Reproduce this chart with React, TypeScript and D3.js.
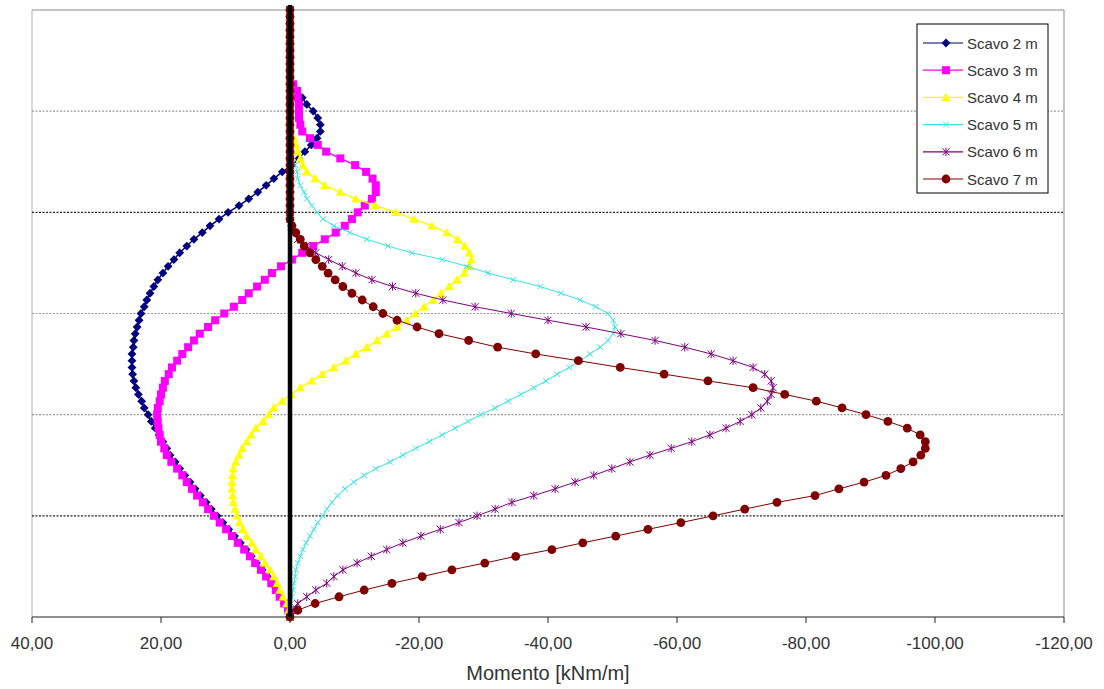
import React from 'react';
import * as d3 from 'd3';

// Depth along the wall (m), one value per computed node
const depth = [
  0, 0.2, 0.4, 0.6, 0.8, 1.0, 1.2, 1.4, 1.6, 1.8,
  2.0, 2.2, 2.4, 2.6, 2.8, 3.0, 3.2, 3.4, 3.6, 3.8,
  4.0, 4.2, 4.4, 4.6, 4.8, 5.0, 5.2, 5.4, 5.6, 5.8,
  6.0, 6.2, 6.4, 6.6, 6.8, 7.0, 7.2, 7.4, 7.6, 7.8,
  8.0, 8.2, 8.4, 8.6, 8.8, 9.0, 9.2, 9.4, 9.6, 9.8,
  10.0, 10.2, 10.4, 10.6, 10.8, 11.0, 11.2, 11.4, 11.6, 11.8,
  12.0, 12.2, 12.4, 12.6, 12.8, 13.0, 13.2, 13.4, 13.6, 13.8,
  14.0, 14.2, 14.4, 14.6, 14.8, 15.0, 15.2, 15.4, 15.6, 15.8,
  16.0, 16.2, 16.4, 16.6, 16.8, 17.0, 17.2, 17.4, 17.6, 17.8,
  18.0,
];

// Bending moment (kNm/m) for each excavation stage
const scavo2 = [
  0, 0, 0, 0, 0, 0, 0, 0, 0, 0,
  0, -0.5, -0.9, -1.9, -2.6, -3.6, -4.3, -4.7, -4.7, -4.2,
  -3.3, -2.3, -1.4, -0.3, 1.2, 2.5, 3.7, 5.0, 6.4, 7.9,
  9.6, 11.0, 12.4, 13.6, 14.9, 16.0, 17.1, 18.0, 18.9, 19.7,
  20.5, 21.1, 21.7, 22.2, 22.6, 23.1, 23.4, 23.7, 24.0, 24.2,
  24.3, 24.5, 24.5, 24.5, 24.4, 24.2, 23.9, 23.5, 23.0, 22.6,
  22.0, 21.5, 20.9, 20.3, 19.7, 19.1, 18.6, 17.8, 17.1, 16.3,
  15.5, 14.7, 13.9, 13.0, 12.2, 11.3, 10.4, 9.5, 8.6, 7.7,
  6.8, 6.0, 5.2, 4.3, 3.5, 2.8, 2.1, 1.5, 0.9, 0.3,
  0,
];
const scavo3 = [
  0, 0, 0, 0, 0, 0, 0, 0, 0, 0,
  0, -0.5, -1.1, -1.2, -1.4, -1.4, -1.4, -1.6, -1.9, -3.1,
  -4.3, -5.6, -7.8, -10.1, -11.8, -12.8, -13.3, -13.3, -12.7, -11.6,
  -10.5, -9.6, -8.5, -7.1, -5.4, -3.6, -1.9, -0.3, 1.4, 2.8,
  3.9, 5.1, 6.4, 7.4, 8.7, 10.2, 11.6, 12.7, 14.0, 14.9,
  15.8, 16.7, 17.5, 18.3, 18.8, 19.4, 19.7, 20.0, 20.2, 20.5,
  20.6, 20.5, 20.4, 20.2, 20.0, 19.5, 19.1, 18.4, 17.5, 16.7,
  16.0, 15.2, 14.4, 13.5, 12.7, 11.8, 10.9, 9.9, 9.0, 8.1,
  7.1, 6.2, 5.4, 4.5, 3.7, 2.9, 2.2, 1.6, 0.9, 0.3,
  0,
];
const scavo4 = [
  0, 0, 0, 0, 0, 0, 0, 0, 0, 0,
  0, 0, 0, 0, 0, 0, 0, 0, 0, -0.6,
  -0.9, -1.2, -1.6, -2.0, -2.6, -3.9, -5.4, -7.8, -10.2, -13.2,
  -16.4, -19.2, -22.0, -24.3, -26.0, -27.1, -27.8, -28.1, -27.8, -27.0,
  -25.9, -24.7, -23.4, -22.2, -20.8, -19.4, -18.1, -16.6, -15.0, -13.5,
  -11.9, -10.2, -8.7, -6.8, -5.0, -3.4, -1.6, -0.2, 1.2, 2.5,
  3.3, 4.2, 5.3, 6.0, 6.7, 7.4, 7.9, 8.4, 8.8, 8.9,
  9.0, 9.0, 8.9, 8.8, 8.5, 8.2, 7.8, 7.3, 6.7, 5.9,
  5.3, 4.5, 3.9, 3.1, 2.5, 2.0, 1.6, 1.1, 0.5, 0.2,
  0,
];
const scavo5 = [
  0, 0, 0, 0, 0, 0, 0, 0, 0, 0,
  0, 0, 0, 0, 0, 0, 0, 0, 0, 0,
  0, 0, -0.3, -0.8, -1.1, -1.2, -1.6, -2.2, -2.6, -3.4,
  -4.2, -5.1, -6.8, -9.3, -11.9, -15.2, -18.9, -23.6, -27.4, -30.7,
  -34.6, -38.8, -42.0, -45.0, -47.4, -49.3, -50.1, -50.4, -50.1, -49.3,
  -48.1, -46.5, -45.0, -43.3, -41.4, -39.7, -37.8, -35.8, -33.8, -31.8,
  -29.6, -27.6, -25.6, -23.6, -21.6, -19.5, -17.5, -15.5, -13.3, -11.5,
  -9.9, -8.5, -7.4, -6.5, -5.7, -5.1, -4.3, -3.7, -3.1, -2.5,
  -2.0, -1.6, -1.2, -0.9, -0.8, -0.6, -0.5, -0.3, -0.2, -0.1,
  0,
];
const scavo6 = [
  0, 0, 0, 0, 0, 0, 0, 0, 0, 0,
  0, 0, 0, 0, 0, 0, 0, 0, 0, 0,
  0, 0, 0, 0, 0, 0, 0, 0, 0, 0,
  0, 0, -0.2, -0.6, -1.2, -2.5, -4.0, -6.0, -8.1, -10.2,
  -12.7, -15.9, -19.5, -23.7, -28.7, -34.3, -40.0, -45.9, -51.3, -56.6,
  -61.2, -65.3, -68.7, -71.8, -73.6, -74.6, -74.9, -74.6, -74.0, -73.0,
  -71.6, -69.8, -67.6, -65.1, -62.3, -59.1, -55.8, -52.7, -49.9, -47.1,
  -44.2, -41.1, -37.8, -34.4, -31.8, -29.0, -26.2, -23.3, -20.3, -17.5,
  -15.0, -12.6, -10.4, -8.2, -6.8, -5.7, -4.0, -2.6, -1.2, -0.5,
  0,
];
const scavo7 = [
  0, 0, 0, 0, 0, 0, 0, 0, 0, 0,
  0, 0, 0, 0, 0, 0, 0, 0, 0, 0,
  0, 0, 0, 0, 0, 0, 0, 0, 0, 0,
  0, 0, -0.3, -0.9, -1.6, -2.2, -3.1, -4.0, -5.0, -5.9,
  -7.0, -8.2, -9.6, -11.2, -12.9, -14.4, -16.6, -19.7, -23.1, -27.7,
  -32.2, -38.1, -44.7, -51.2, -58.0, -64.8, -71.8, -76.7, -81.6, -85.6,
  -89.3, -92.7, -95.7, -97.7, -98.5, -98.5, -97.8, -96.6, -94.7, -92.4,
  -89.0, -85.1, -81.4, -75.5, -70.5, -65.6, -60.6, -55.5, -50.5, -45.4,
  -40.6, -35.0, -30.2, -25.1, -20.5, -15.8, -11.5, -7.6, -3.9, -1.2,
  0,
];

const seriesNames = ['Scavo 2 m', 'Scavo 3 m', 'Scavo 4 m', 'Scavo 5 m', 'Scavo 6 m', 'Scavo 7 m'];
const seriesValues = [scavo2, scavo3, scavo4, scavo5, scavo6, scavo7];
const seriesColors = ['#000080', '#FF00FF', '#FFFF00', '#33E6E6', '#800080', '#800000'];
const seriesMarkers = ['diamond', 'square', 'triangle', 'x', 'star', 'circle'];

const xTicks = [40, 20, 0, -20, -40, -60, -80, -100, -120];
const gridDepths = [3, 6, 9, 12, 15];
const darkGrid = [6, 15];
const xTitle = 'Momento [kNm/m]';

const FONT = "'Liberation Sans', Arial, sans-serif";

function Marker({ type, cx, cy, color }: { type: string; cx: number; cy: number; color: string }) {
  const t = `translate(${cx},${cy})`;
  switch (type) {
    case 'diamond': {
      const r = 4.4;
      return <path transform={t} d={`M0,${-r}L${r},0L0,${r}L${-r},0Z`} fill={color} />;
    }
    case 'square': {
      const r = 4;
      return <rect x={cx - r} y={cy - r} width={2 * r} height={2 * r} fill={color} />;
    }
    case 'triangle': {
      const r = 4.6;
      return <path transform={t} d={`M0,${-r}L${r},${r * 0.8}L${-r},${r * 0.8}Z`} fill={color} />;
    }
    case 'x': {
      const r = 2.8;
      return <path transform={t} d={`M${-r},${-r}L${r},${r}M${-r},${r}L${r},${-r}`} stroke={color} strokeWidth={1} fill="none" />;
    }
    case 'star': {
      const r = 3.6;
      return (
        <path
          transform={t}
          d={`M${-r},${-r}L${r},${r}M${-r},${r}L${r},${-r}M0,${-r - 0.6}L0,${r + 0.6}`}
          stroke={color}
          strokeWidth={1}
          fill="none"
        />
      );
    }
    default:
      return <circle cx={cx} cy={cy} r={4.4} fill={color} />;
  }
}

export default function App() {
  const W = 1104;
  const H = 689;
  const left = 32;
  const right = 1064;
  const top = 10;
  const bottom = 617;

  const x = d3.scaleLinear().domain([40, -120]).range([left, right]);
  const y = d3.scaleLinear().domain([0, 18]).range([top, bottom]);

  const line = d3
    .line<[number, number]>()
    .x((p) => x(p[1]))
    .y((p) => y(p[0]));

  const fmt = (v: number) => v.toFixed(2).replace('.', ',');

  const legendX = 917;
  const legendY = 24;
  const legendW = 131;
  const legendH = 169;
  const legendStep = 27.2;

  return (
    <svg
      width={W}
      height={H}
      style={{ position: 'absolute', left: 0, top: 0, background: '#fff' }}
      fontFamily={FONT}
    >
      <rect x={0} y={0} width={W} height={H} fill="#fff" />

      {/* plot area border */}
      <line x1={left} x2={right} y1={top} y2={top} stroke="#8c8c8c" strokeWidth={1} />
      <line x1={left} x2={left} y1={top} y2={bottom} stroke="#b0b0b0" strokeWidth={1} />
      <line x1={right} x2={right} y1={top} y2={bottom} stroke="#8c8c8c" strokeWidth={1} />

      {/* horizontal gridlines */}
      {gridDepths.map((g) => (
        <line
          key={g}
          x1={left}
          x2={right}
          y1={y(g)}
          y2={y(g)}
          stroke={darkGrid.includes(g) ? '#222' : '#999'}
          strokeWidth={1.2}
          strokeDasharray="2,1.5"
        />
      ))}

      {/* series */}
      {seriesValues.map((vals, si) => {
        const pts: [number, number][] = depth.map((d, i) => [d, vals[i]]);
        const thin = si >= 3;
        return (
          <g key={si}>
            <path
              d={line(pts) || ''}
              fill="none"
              stroke={seriesColors[si]}
              strokeWidth={thin ? 1 : 1.5}
            />
            {pts.map((p, i) => (
              <Marker key={i} type={seriesMarkers[si]} cx={x(p[1])} cy={y(p[0])} color={seriesColors[si]} />
            ))}
          </g>
        );
      })}

      {/* zero axis (thick), drawn over the series */}
      <line x1={x(0)} x2={x(0)} y1={top - 5} y2={bottom} stroke="#000" strokeWidth={4.5} />

      {/* bottom axis */}
      <line x1={left} x2={right} y1={bottom} y2={bottom} stroke="#222" strokeWidth={1.2} />
      {xTicks.map((t) => (
        <g key={t}>
          <line x1={x(t)} x2={x(t)} y1={bottom} y2={bottom + 6} stroke="#222" strokeWidth={1} />
          <text x={x(t)} y={649} textAnchor="middle" fontSize={17} fill="#333">
            {fmt(t)}
          </text>
        </g>
      ))}
      <text x={(left + right) / 2} y={680} textAnchor="middle" fontSize={20} fill="#333">
        {xTitle}
      </text>

      {/* legend */}
      <rect x={legendX} y={legendY} width={legendW} height={legendH} fill="#fff" stroke="#000" strokeWidth={1} />
      {seriesNames.map((name, i) => {
        const ly = legendY + 19 + i * legendStep;
        return (
          <g key={name}>
            <line x1={legendX + 6} x2={legendX + 46} y1={ly} y2={ly} stroke={seriesColors[i]} strokeWidth={1.2} />
            <Marker type={seriesMarkers[i]} cx={legendX + 29} cy={ly} color={seriesColors[i]} />
            <text x={legendX + 50} y={ly} dominantBaseline="central" fontSize={15} fill="#333">
              {name}
            </text>
          </g>
        );
      })}
    </svg>
  );
}
